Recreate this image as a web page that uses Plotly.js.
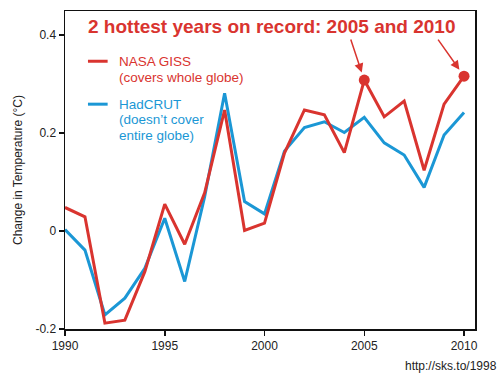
<!DOCTYPE html>
<html>
<head>
<meta charset="utf-8">
<script src="https://cdn.plot.ly/plotly-3.0.1.min.js"></script>
<style>html,body{margin:0;padding:0;background:#fff;}#chart{width:500px;height:375px;}</style>
</head>
<body>
<div id="chart"></div>
<script>
var years = [1990,1991,1992,1993,1994,1995,1996,1997,1998,1999,2000,2001,2002,2003,2004,2005,2006,2007,2008,2009,2010];
var giss = [0.048,0.029,-0.188,-0.182,-0.083,0.055,-0.027,0.078,0.247,0.001,0.016,0.159,0.247,0.237,0.160,0.308,0.233,0.265,0.124,0.259,0.316];
var hadcrut = [0.003,-0.039,-0.171,-0.137,-0.076,0.026,-0.103,0.07,0.281,0.060,0.035,0.163,0.211,0.223,0.201,0.232,0.180,0.155,0.089,0.196,0.242];
var hotYears = [2005, 2010];
var yTicks = [-0.2, 0, 0.2, 0.4];
var yTickText = ['-0.2', '0', '0.2', '0.4'];
var xTicks = [1990, 1995, 2000, 2005, 2010];

var RED = '#d9342f', BLUE = '#1b97d5';
var hotVals = hotYears.map(function(y){ return giss[years.indexOf(y)]; });

var traces = [
  {x: years, y: hadcrut, mode: 'lines', line: {color: BLUE, width: 3}, name: 'HadCRUT', hoverinfo: 'skip'},
  {x: years, y: giss, mode: 'lines', line: {color: RED, width: 3}, name: 'NASA GISS', hoverinfo: 'skip'},
  {x: hotYears, y: hotVals, mode: 'markers', marker: {color: RED, size: 11}, hoverinfo: 'skip'}
];

var font = {family: 'Liberation Sans, Arial, sans-serif'};
var layout = {
  width: 500, height: 375,
  margin: {l: 65, r: 25, t: 11, b: 46},
  paper_bgcolor: '#fff', plot_bgcolor: '#fff',
  showlegend: false,
  font: {family: font.family, color: '#222', size: 12},
  xaxis: {range: [1990, 2010.55], tickvals: xTicks, ticks: 'outside', ticklen: 5, tickwidth: 1.5, tickcolor: '#111',
          showline: true, linecolor: '#111', linewidth: 1.5, mirror: true, showgrid: false, zeroline: false,
          tickfont: {size: 12, color: '#222'}},
  yaxis: {range: [-0.2, 0.449], tickvals: yTicks, ticktext: yTickText, ticks: 'outside', ticklen: 5, tickwidth: 1.5, tickcolor: '#111',
          showline: true, linecolor: '#111', linewidth: 1.5, mirror: true, showgrid: false, zeroline: false,
          tickfont: {size: 12, color: '#222'},
          title: {text: 'Change in Temperature (°C)', font: {size: 12, color: '#222'}, standoff: 10}},
  shapes: [
    {type: 'line', xref: 'paper', yref: 'paper', x0: 0.056, x1: 0.104, y0: 0.842, y1: 0.842, line: {color: RED, width: 3}},
    {type: 'line', xref: 'paper', yref: 'paper', x0: 0.056, x1: 0.104, y0: 0.707, y1: 0.707, line: {color: BLUE, width: 3}}
  ],
  annotations: [
    {xref: 'paper', yref: 'paper', x: 0.505, y: 0.952, xanchor: 'center', yanchor: 'middle', showarrow: false,
     text: '<b>2 hottest years on record: 2005 and 2010</b>', font: {size: 19, color: RED}},
    {xref: 'paper', yref: 'paper', x: 0.127, y: 0.842, xanchor: 'left', yanchor: 'middle', showarrow: false,
     text: 'NASA GISS', font: {size: 13.5, color: RED}},
    {xref: 'paper', yref: 'paper', x: 0.127, y: 0.792, xanchor: 'left', yanchor: 'middle', showarrow: false,
     text: '(covers whole globe)', font: {size: 13.5, color: RED}},
    {xref: 'paper', yref: 'paper', x: 0.127, y: 0.707, xanchor: 'left', yanchor: 'middle', showarrow: false,
     text: 'HadCRUT', font: {size: 13.5, color: BLUE}},
    {xref: 'paper', yref: 'paper', x: 0.127, y: 0.66, xanchor: 'left', yanchor: 'middle', showarrow: false,
     text: '(doesn’t cover', font: {size: 13.5, color: BLUE}},
    {xref: 'paper', yref: 'paper', x: 0.127, y: 0.61, xanchor: 'left', yanchor: 'middle', showarrow: false,
     text: 'entire globe)', font: {size: 13.5, color: BLUE}},
    {x: hotYears[0], y: hotVals[0], xref: 'x', yref: 'y', ax: -14, ay: -42, showarrow: true, arrowhead: 2, arrowsize: 1.2,
     arrowwidth: 1.5, arrowcolor: RED, standoff: 8, text: ''},
    {x: hotYears[1], y: hotVals[1], xref: 'x', yref: 'y', ax: -27, ay: -38, showarrow: true, arrowhead: 2, arrowsize: 1.2,
     arrowwidth: 1.5, arrowcolor: RED, standoff: 8, text: ''},
    {xref: 'paper', yref: 'paper', x: 1.058, y: -0.115, xanchor: 'right', yanchor: 'middle', showarrow: false,
     text: 'http://sks.to/1998', font: {size: 12, color: '#222'}}
  ]
};
Plotly.newPlot('chart', traces, layout, {staticPlot: true, displayModeBar: false});
</script>
</body>
</html>
